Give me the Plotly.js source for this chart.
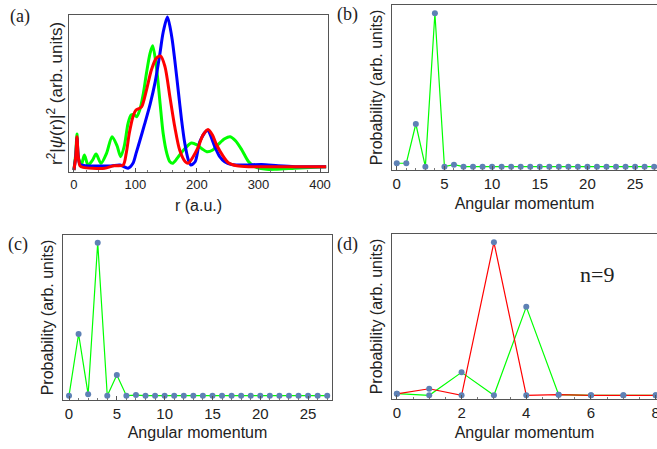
<!DOCTYPE html>
<html>
<head>
<meta charset="utf-8">
<script src="https://cdn.plot.ly/plotly-3.0.1.min.js"></script>
<style>html,body{margin:0;padding:0;background:#fff;}#plot{width:657px;height:449px;}</style>
</head>
<body>
<div id="plot"></div>
<script>
// Panel (a): radial densities r^2|psi(r)|^2 (arb. units) vs r (a.u.)
const rGreen = [0, 3, 5, 7, 12, 17, 23, 30, 36, 44, 53, 62, 70, 76, 82, 88, 93, 98, 102, 107, 113, 118, 124, 128, 134, 140, 145, 151, 156, 161, 170, 180, 191, 200, 208, 216, 225, 235, 245, 254, 263, 273, 284, 294, 313, 330, 359, 410];
const densGreen = [0.013, 0.12, 0.245, 0.1, 0.045, 0.11, 0.045, 0.075, 0.116, 0.056, 0.12, 0.228, 0.17, 0.099, 0.17, 0.314, 0.368, 0.37, 0.357, 0.4, 0.51, 0.64, 0.77, 0.815, 0.68, 0.445, 0.25, 0.12, 0.066, 0.057, 0.1, 0.15, 0.187, 0.175, 0.15, 0.131, 0.14, 0.18, 0.215, 0.228, 0.2, 0.142, 0.066, 0.034, 0.017, 0.018, 0.024, 0.034];
const rBlue = [0, 3, 5, 7, 10, 20, 40, 60, 75, 88, 96, 101, 107, 115, 124, 132, 140, 145, 152, 159, 164, 170, 175, 180, 186, 190, 197, 205, 217, 229, 237, 245, 256, 278, 305, 332, 360, 410];
const densBlue = [0.013, 0.1, 0.22, 0.1, 0.05, 0.04, 0.039, 0.039, 0.045, 0.024, 0.056, 0.12, 0.2, 0.31, 0.44, 0.58, 0.77, 0.9, 1.0, 0.873, 0.72, 0.51, 0.335, 0.19, 0.077, 0.045, 0.066, 0.2, 0.267, 0.163, 0.099, 0.066, 0.049, 0.045, 0.049, 0.04, 0.034, 0.034];
const rRed = [0, 3, 5, 7, 10, 15, 30, 50, 65, 80, 85, 90, 96, 101, 106, 110, 118, 126, 134, 141, 148, 156, 164, 172, 181, 186, 194, 202, 210, 218, 225, 232, 243, 251, 265, 285, 305, 350, 410];
const densRed = [0.013, 0.1, 0.228, 0.1, 0.04, 0.03, 0.024, 0.024, 0.04, 0.045, 0.12, 0.25, 0.357, 0.4, 0.41, 0.42, 0.53, 0.66, 0.735, 0.748, 0.68, 0.486, 0.29, 0.14, 0.066, 0.057, 0.1, 0.16, 0.24, 0.275, 0.24, 0.174, 0.099, 0.06, 0.04, 0.034, 0.034, 0.034, 0.034];

// Panel (b): probability vs angular momentum
const lB = [0,1,2,3,4,5,6,7,8,9,10,11,12,13,14,15,16,17,18,19,20,21,22,23,24,25,26,27];
const probB = [0.022, 0.022, 0.278, 0, 1, 0, 0.013, 0, 0, 0, 0, 0, 0, 0, 0, 0, 0, 0, 0, 0, 0, 0, 0, 0, 0, 0, 0, 0];

// Panel (c)
const lC = [0,1,2,3,4,5,6,7,8,9,10,11,12,13,14,15,16,17,18,19,20,21,22,23,24,25,26,27];
const probC = [0, 0.403, 0.009, 1, 0, 0.135, 0, 0.004, 0, 0, 0, 0, 0, 0, 0, 0, 0, 0, 0, 0, 0, 0, 0, 0, 0, 0, 0, 0];

// Panel (d), n=9
const lD = [0,1,2,3,4,5,6,7,8];
const probDGreen = [0.011, 0, 0.15, 0, 0.578, 0.004, 0, 0, 0];
const probDRed = [0.01, 0.043, 0, 1, 0, 0.004, 0, 0, 0];

const W = 657, H = 449;
const GREEN = '#00ff00', BLUE = '#0000ff', RED = '#ff0000', DOT = '#5e81b5';
const SANS = 'Liberation Sans, Arial, sans-serif';
const SERIF = 'Liberation Serif, Times New Roman, serif';

function dx(a, b) { return [a / W, Math.min(1, b / W)]; }
function dy(top, bottom) { return [1 - bottom / H, 1 - top / H]; }

const traces = [
  {x: rGreen, y: densGreen, xaxis: 'x', yaxis: 'y', mode: 'lines', line: {color: GREEN, width: 3, shape: 'spline', smoothing: 0.8}, hoverinfo: 'skip'},
  {x: rBlue, y: densBlue, xaxis: 'x', yaxis: 'y', mode: 'lines', line: {color: BLUE, width: 3, shape: 'spline', smoothing: 0.8}, hoverinfo: 'skip'},
  {x: rRed, y: densRed, xaxis: 'x', yaxis: 'y', mode: 'lines', line: {color: RED, width: 3, shape: 'spline', smoothing: 0.8}, hoverinfo: 'skip'},
  {x: lB, y: probB, xaxis: 'x2', yaxis: 'y2', mode: 'lines+markers', line: {color: GREEN, width: 1.2}, marker: {color: DOT, size: 6}},
  {x: lC, y: probC, xaxis: 'x3', yaxis: 'y3', mode: 'lines+markers', line: {color: GREEN, width: 1.2}, marker: {color: DOT, size: 6}},
  {x: lD, y: probDGreen, xaxis: 'x4', yaxis: 'y4', mode: 'lines+markers', line: {color: GREEN, width: 1.2}, marker: {color: DOT, size: 6}},
  {x: lD, y: probDRed, xaxis: 'x4', yaxis: 'y4', mode: 'lines+markers', line: {color: RED, width: 1.2}, marker: {color: DOT, size: 6}}
];

function xax(domain, range, dtick, minorDtick, title, tickSize, titleSize, standoff, anchor) {
  return {
    domain: domain, range: range, anchor: anchor, dtick: dtick, tick0: 0,
    showline: true, mirror: true, linecolor: '#555', linewidth: 1,
    ticks: 'inside', ticklen: 4, tickcolor: '#555',
    minor: {ticks: 'inside', ticklen: 2, dtick: minorDtick, tickcolor: '#777'},
    showgrid: false, zeroline: false,
    ticklabeloverflow: 'allow',
    tickfont: {family: SANS, size: tickSize, color: '#222'},
    title: {text: title, font: {family: SANS, size: titleSize, color: '#222'}, standoff: standoff},
    automargin: false, fixedrange: true
  };
}
function yax(domain, range, title, titleSize, standoff, anchor) {
  const ax = {
    domain: domain, range: range, anchor: anchor,
    showline: true, mirror: true, linecolor: '#555', linewidth: 1,
    ticks: '', showticklabels: false, showgrid: false, zeroline: false,
    automargin: false, fixedrange: true
  };
  if (title) ax.title = {text: title, font: {family: SANS, size: titleSize, color: '#222'}, standoff: standoff};
  return ax;
}

const yTitleA = 'r<sup>2</sup>|<i>ψ</i>(r)|<sup>2</sup> (arb. units)';

const layout = {
  width: W, height: H,
  margin: {l: 0, r: 0, t: 0, b: 0},
  paper_bgcolor: '#fff', plot_bgcolor: '#fff',
  showlegend: false,
  xaxis: xax(dx(69, 328), [-8, 413], 100, 20, 'r (a.u.)', 13, 16, 9, 'y'),
  yaxis: yax(dy(15, 172), [0, 1.013], null, 17, 0, 'x'),
  xaxis2: xax(dx(392, 657), [-0.5, 27.3], 5, 1, 'Angular momentum', 15, 16, 6, 'y2'),
  yaxis2: yax(dy(5, 170), [-0.022, 1.054], 'Probability (arb. units)', 16, 4, 'x2'),
  xaxis3: xax(dx(63, 332), [-0.63, 27.5], 5, 1, 'Angular momentum', 15, 16, 5, 'y3'),
  yaxis3: yax(dy(235, 400), [-0.028, 1.05], 'Probability (arb. units)', 16, 4, 'x3'),
  xaxis4: xax(dx(392, 657), [-0.15, 8.04], 2, 0.5, 'Angular momentum', 15, 16, 6, 'y4'),
  yaxis4: yax(dy(234, 399), [-0.024, 1.054], 'Probability (arb. units)', 16, 4, 'x4'),
  annotations: [
    {text: yTitleA, xref: 'paper', yref: 'paper', x: 55 / W, y: 1 - 94 / H, xanchor: 'center', yanchor: 'middle', textangle: -90, showarrow: false, font: {family: SANS, size: 17, color: '#222'}},
    {text: '(a)', xref: 'paper', yref: 'paper', x: 20 / W, y: 1 - 17 / H, xanchor: 'center', yanchor: 'middle', showarrow: false, font: {family: SERIF, size: 18, color: '#222'}},
    {text: '(b)', xref: 'paper', yref: 'paper', x: 347 / W, y: 1 - 15 / H, xanchor: 'center', yanchor: 'middle', showarrow: false, font: {family: SERIF, size: 18, color: '#222'}},
    {text: '(c)', xref: 'paper', yref: 'paper', x: 18 / W, y: 1 - 245 / H, xanchor: 'center', yanchor: 'middle', showarrow: false, font: {family: SERIF, size: 18, color: '#222'}},
    {text: '(d)', xref: 'paper', yref: 'paper', x: 347 / W, y: 1 - 245 / H, xanchor: 'center', yanchor: 'middle', showarrow: false, font: {family: SERIF, size: 18, color: '#222'}},
    {text: 'n=9', xref: 'paper', yref: 'paper', x: 597 / W, y: 1 - 274 / H, xanchor: 'center', yanchor: 'middle', showarrow: false, font: {family: SERIF, size: 22, color: '#222'}}
  ]
};

Plotly.newPlot('plot', traces, layout, {displayModeBar: false, staticPlot: true});
</script>
</body>
</html>
